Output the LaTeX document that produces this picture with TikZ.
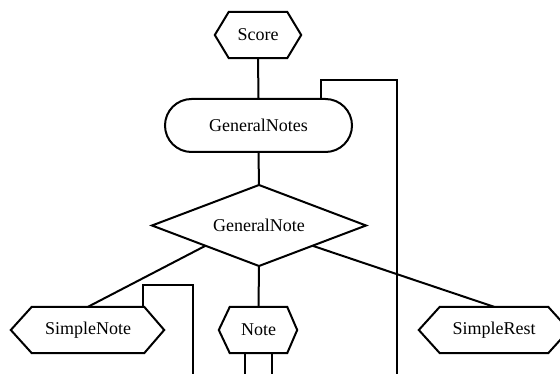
\documentclass[tikz,border=0pt]{standalone}
\usepackage{fontspec}
\setmainfont{Liberation Serif}
\usetikzlibrary{calc}
\tikzset{
  lbl/.style={font=\fontsize{18}{20}\selectfont, inner sep=0pt},
  hexbox/.style={lbl, minimum height=46pt},
  outline/.style={line width=2pt, line join=miter},
  link/.style={line width=2pt},
}
% hexagon drawn around a box node: #1 node, #2 left indent, #3 right indent
\newcommand{\hexaround}[3]{%
  \draw[outline] (#1.north west) -- (#1.north east) -- ([xshift=#3]#1.east)
    -- (#1.south east) -- (#1.south west) -- ([xshift=-#2]#1.west) -- cycle;}
\begin{document}
\begin{tikzpicture}[x=1pt,y=-1pt]
  \useasboundingbox (0,0) rectangle (560,374);
  \clip (0,0) rectangle (560,374);

  \node[hexbox, minimum width=58pt] (score) at (258,35) {Score};
  \hexaround{score}{14pt}{14pt}

  \node[lbl, draw, outline, rounded corners=26.5pt, minimum width=187pt,
        minimum height=53pt] (gns) at (258.5,125.5) {GeneralNotes};

  % decision diamond: label node plus its four corners
  \node[lbl] (gn) at (259,225.5) {GeneralNote};
  \coordinate (gnN) at (259,185);
  \coordinate (gnE) at (366,225.5);
  \coordinate (gnS) at (259,266);
  \coordinate (gnW) at (152,225.5);
  \draw[outline] (gnN) -- (gnE) -- (gnS) -- (gnW) -- cycle;
  \coordinate (gnSW) at ($(gnS)!0.5!(gnW)$);
  \coordinate (gnSE) at ($(gnS)!0.5!(gnE)$);

  \node[hexbox, minimum width=112pt] (snote) at (88,330) {SimpleNote};
  \hexaround{snote}{21pt}{20pt}

  \node[hexbox, minimum width=57pt] (note) at (258.5,330) {Note};
  \hexaround{note}{11pt}{10pt}

  \node[hexbox, minimum width=108pt] (srest) at (494,330) {SimpleRest};
  \hexaround{srest}{21pt}{21pt}

  % free ends below the lower edge
  \coordinate (endA) at (397,380);
  \coordinate (endB) at (193,380);
  \coordinate (endC) at (245,380);
  \coordinate (endD) at (272,380);

  \draw[link] (score.south) -- (gns.north);
  \draw[link] (gns.south) -- (gnN);
  \draw[link] ([xshift=62.5pt]gns.north) |- (397,80) -- (endA);
  \draw[link] (gnSW) -- (snote.north);
  \draw[link] (gnS) -- (note.north);
  \draw[link] (gnSE) -- (srest.north);
  \draw[link] ([xshift=-1pt]snote.north east) |- (193,285) -- (endB);
  \draw[link] (note.south -| endC) -- (endC);
  \draw[link] (note.south -| endD) -- (endD);
\end{tikzpicture}
\end{document}
